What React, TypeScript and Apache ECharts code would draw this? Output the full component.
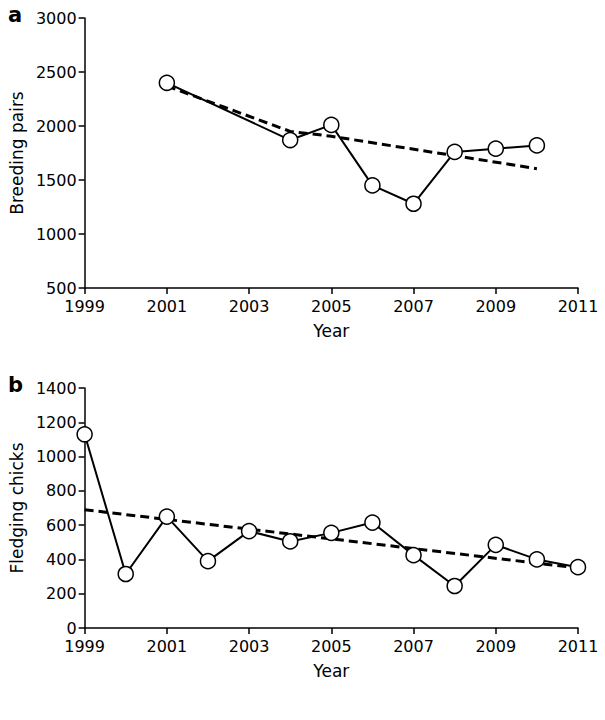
import { useEffect, useRef } from "react";
import * as echarts from "echarts";

const yearsA = [2001, 2004, 2005, 2006, 2007, 2008, 2009, 2010];
const pairs = [2400, 1870, 2010, 1450, 1280, 1760, 1790, 1820];
const trendA = [[2001, 2370], [2004, 1950], [2005, 1905], [2010, 1605]];

const yearsB = [1999, 2000, 2001, 2002, 2003, 2004, 2005, 2006, 2007, 2008, 2009, 2010, 2011];
const chicks = [1130, 315, 650, 390, 565, 505, 555, 615, 425, 245, 485, 400, 355];
const trendB = [[1999, 690], [2011, 350]];

const font = "DejaVu Sans";

export default function App() {
  const ref = useRef<HTMLDivElement>(null);

  useEffect(() => {
    if (!ref.current) return;
    const chart = echarts.init(ref.current, undefined, { renderer: "svg" });

    const axisCommon = {
      axisLine: { show: true, lineStyle: { color: "#000", width: 1.5 } },
      axisTick: { show: true, inside: false, length: 6, lineStyle: { color: "#000", width: 1.5 } },
      axisLabel: { color: "#000", fontSize: 16, fontFamily: font, formatter: (v: number) => String(v) },
      splitLine: { show: false },
      nameTextStyle: { color: "#000", fontSize: 17, fontFamily: font },
    };
    const xAxis = (i: number) => ({
      ...axisCommon,
      type: "value" as const,
      gridIndex: i,
      min: 1999,
      max: 2011,
      interval: 2,
      name: "Year",
      nameLocation: "middle" as const,
      nameGap: 34,
      axisLabel: { ...axisCommon.axisLabel, margin: 10 },
    });
    const circle = {
      symbol: "circle",
      symbolSize: 15,
      itemStyle: { color: "#fff", borderColor: "#000", borderWidth: 1.5 },
      lineStyle: { color: "#000", width: 2 },
    };
    const dashed = {
      type: "line" as const,
      showSymbol: false,
      lineStyle: { color: "#000", width: 3, type: [9, 5] },
      z: 1,
    };

    chart.setOption({
      animation: false,
      grid: [
        { left: 83, top: 18, width: 495, height: 270 },
        { left: 83, top: 388, width: 495, height: 240 },
      ],
      xAxis: [xAxis(0), xAxis(1)],
      yAxis: [
        {
          ...axisCommon, type: "value", gridIndex: 0, min: 500, max: 3000, interval: 500,
          name: "Breeding pairs", nameLocation: "middle", nameGap: 56,
        },
        {
          ...axisCommon, type: "value", gridIndex: 1, min: 0, max: 1400, interval: 200,
          name: "Fledging chicks", nameLocation: "middle", nameGap: 56,
        },
      ],
      graphic: [
        { type: "text", left: 8, top: 4, style: { text: "a", font: `bold 21px ${font}`, fill: "#000" } },
        { type: "text", left: 8, top: 374, style: { text: "b", font: `bold 21px ${font}`, fill: "#000" } },
      ],
      series: [
        { ...dashed, xAxisIndex: 0, yAxisIndex: 0, data: trendA },
        {
          type: "line", xAxisIndex: 0, yAxisIndex: 0, z: 3, ...circle,
          data: yearsA.map((y, i) => [y, pairs[i]]),
        },
        { ...dashed, xAxisIndex: 1, yAxisIndex: 1, data: trendB },
        {
          type: "line", xAxisIndex: 1, yAxisIndex: 1, z: 3, ...circle,
          data: yearsB.map((y, i) => [y, chicks[i]]),
        },
      ],
    });

    return () => chart.dispose();
  }, []);

  return (
    <div
      ref={ref}
      style={{ position: "fixed", left: 0, top: 0, width: 605, height: 720, background: "#fff" }}
    />
  );
}
